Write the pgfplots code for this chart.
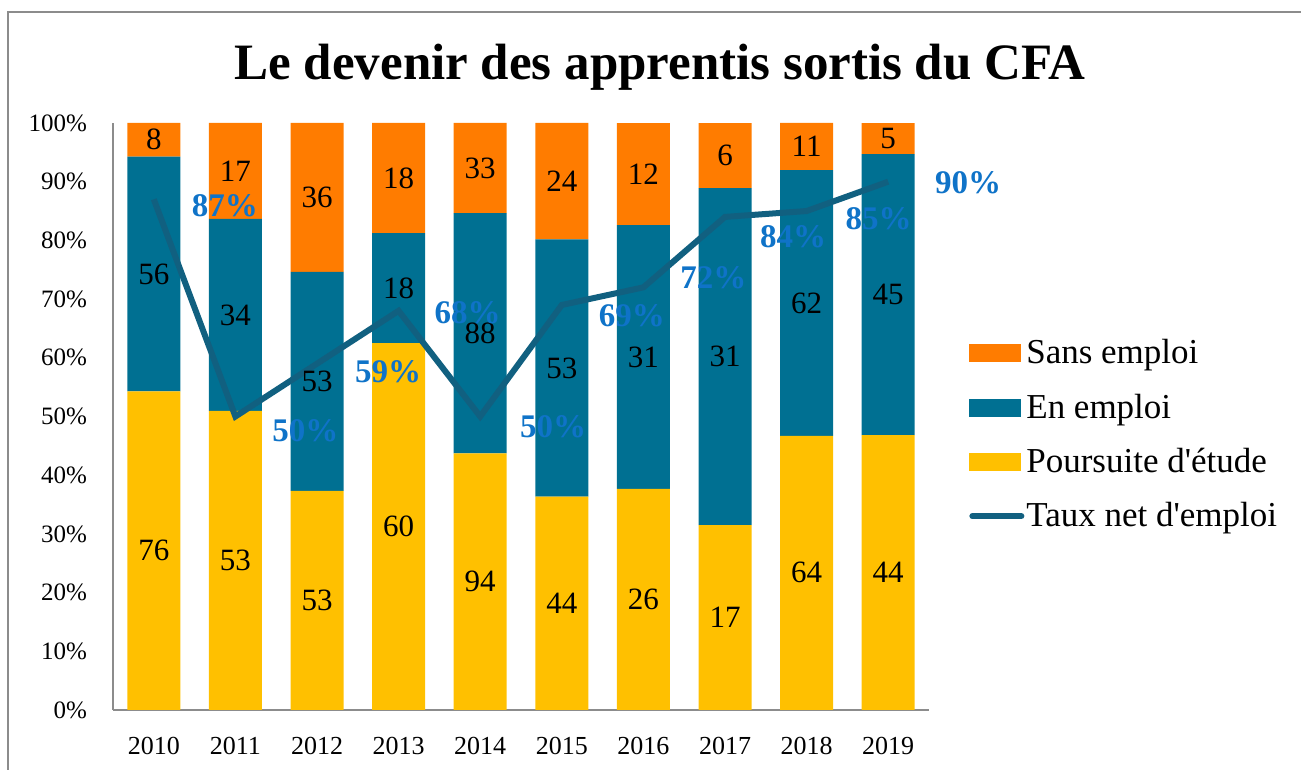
\documentclass[border=0pt]{standalone}
\usepackage{fontspec}
\setmainfont{Liberation Serif}[Ligatures=TeXOff]
\usepackage{pgfplots}
\usepackage{pgfplotstable}
\pgfplotsset{compat=1.18}
\definecolor{cOrange}{RGB}{255,124,0}
\definecolor{cTeal}{RGB}{0,112,146}
\definecolor{cYel}{RGB}{255,192,0}
\definecolor{cLine}{RGB}{17,96,128}
\definecolor{cLab}{RGB}{15,115,200}
\definecolor{cAx}{RGB}{140,140,140}
\pgfplotstableread{
x P E S tx dx dy
0 76 56 8 87 35.5 -3
1 53 34 17 50 35 -7
2 53 53 36 59 35.5 -4
3 60 18 18 68 34.5 -1
4 94 88 33 50 36.5 -5
5 44 53 24 69 35 -5.5
6 26 31 12 72 35 5
7 17 31 6 84 34 -10
8 64 62 11 85 36 -4
9 44 45 5 90 40 -0.5
}\data
\pgfplotsset{
  mybarleg/.style={legend image code/.code={\fill[##1, draw=none] (0pt,-4.5pt) rectangle (26pt,4.5pt);}},
  mylineleg/.style={legend image code/.code={\draw[##1, line width=3pt, line cap=round] (1.5pt,0pt) -- (26pt,0pt);}},
  common/.style={
    at={(56.5pt,30pt)}, anchor=south west,
    scale only axis, width=408pt, height=293.5pt,
    xmin=-0.5, xmax=9.5, ymin=0, ymax=100,
    enlarge x limits=false, enlarge y limits=false,
  }
}
\begin{document}
\begin{tikzpicture}
\useasboundingbox (0,0) rectangle (650.5pt,385pt);
\draw[cAx, line width=1pt] (4pt,0pt) -- (4pt,379pt) -- (652pt,379pt);
\node[font=\fontsize{25.5}{30}\selectfont\bfseries] at (330pt,351.5pt) {Le devenir des apprentis sortis du CFA};
\begin{axis}[common,
  ybar stacked, bar width=26.5pt,
  axis x line*=bottom, axis y line*=left,
  axis line style={cAx, line width=1pt, -},
  major tick length=0pt,
  xtick={0,...,9},
  xticklabels={2010,2011,2012,2013,2014,2015,2016,2017,2018,2019},
  ytick={0,10,...,100},
  yticklabel={\pgfmathprintnumber{\tick}\%},
  /pgf/number format/assume math mode=true,
  yticklabel style={font=\fontsize{12.5}{14}\selectfont, xshift=-9.5pt},
  xticklabel style={font=\fontsize{13}{15}\selectfont, yshift=-10pt},
]
\addplot[fill=cYel, draw=none] table[x=x, y expr={100*\thisrow{P}/(\thisrow{P}+\thisrow{E}+\thisrow{S})}] {\data};
\addplot[fill=cTeal, draw=none] table[x=x, y expr={100*\thisrow{E}/(\thisrow{P}+\thisrow{E}+\thisrow{S})}] {\data};
\addplot[fill=cOrange, draw=none] table[x=x, y expr={100*\thisrow{S}/(\thisrow{P}+\thisrow{E}+\thisrow{S})}] {\data};
\end{axis}
\begin{axis}[common, axis lines=none, clip=false,
  legend style={at={(1.0416,0.469)}, anchor=west, draw=none, fill=none,
    font=\fontsize{17.5}{20}\selectfont, row sep=9.5pt, cells={anchor=west},
    nodes={inner xsep=1pt}},
]
\addlegendimage{mybarleg, fill=cOrange}
\addlegendentry{Sans emploi}
\addlegendimage{mybarleg, fill=cTeal}
\addlegendentry{En emploi}
\addlegendimage{mybarleg, fill=cYel}
\addlegendentry{Poursuite d'étude}
\addlegendimage{mylineleg, draw=cLine}
\addlegendentry{Taux net d'emploi}
% segment labels
\addplot[draw=none, mark=none, forget plot, point meta=explicit symbolic, nodes near coords,
  nodes near coords style={anchor=center, text=black, font=\fontsize{15.5}{17}\selectfont}]
  table[x=x, y expr={100*(\thisrow{P}/2)/(\thisrow{P}+\thisrow{E}+\thisrow{S})}, meta=P] {\data};
\addplot[draw=none, mark=none, forget plot, point meta=explicit symbolic, nodes near coords,
  nodes near coords style={anchor=center, text=black, font=\fontsize{15.5}{17}\selectfont}]
  table[x=x, y expr={100*(\thisrow{P}+\thisrow{E}/2)/(\thisrow{P}+\thisrow{E}+\thisrow{S})}, meta=E] {\data};
\addplot[draw=none, mark=none, forget plot, point meta=explicit symbolic, nodes near coords,
  nodes near coords style={anchor=center, text=black, font=\fontsize{15.5}{17}\selectfont}]
  table[x=x, y expr={100*(\thisrow{P}+\thisrow{E}+\thisrow{S}/2)/(\thisrow{P}+\thisrow{E}+\thisrow{S})}, meta=S] {\data};
% line
\addplot[cLine, line width=3pt, mark=none, forget plot] table[x=x, y=tx] {\data};
% line labels
\addplot[draw=none, mark=none, forget plot, point meta=explicit symbolic, nodes near coords={\pgfplotspointmeta\%},
  visualization depends on={\thisrow{dx} \as \mydx},
  visualization depends on={\thisrow{dy} \as \mydy},
  nodes near coords style={anchor=center, text=cLab, font=\fontsize{16.5}{18}\selectfont\bfseries,
    xshift=\mydx, yshift=\mydy}]
  table[x=x, y=tx, meta=tx] {\data};
\end{axis}
\end{tikzpicture}
\end{document}
